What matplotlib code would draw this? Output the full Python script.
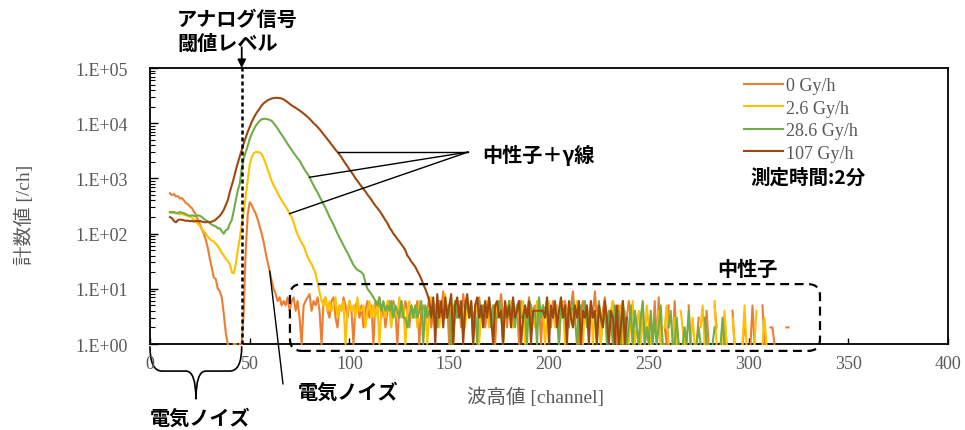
import matplotlib.pyplot as plt
import numpy as np
from matplotlib.patches import FancyBboxPatch, PathPatch
from matplotlib.path import Path
from matplotlib.ticker import LogLocator, NullFormatter

plt.rcParams['font.family'] = ['Liberation Serif', 'Noto Sans CJK JP']
GOTHIC = ['Noto Sans CJK JP', 'DejaVu Sans']
GRAY = '#595959'

# pulse height spectra, counts per channel starting at channel 10 (0 = no counts)
first_channel = 10
series_names = ["0 Gy/h", "2.6 Gy/h", "28.6 Gy/h", "107 Gy/h"]
series_colors = ["#ED7D31", "#FFC000", "#70AD47", "#9E480E"]

counts_0gy = [
    540, 500, 520, 470, 480, 430, 440, 400, 360, 340,
    310, 290, 250, 220, 180, 150, 120, 100, 76, 55,
    35, 24, 16, 15, 10, 9, 7, 3.5, 1.6, 1,
    0, 0, 1, 1, 0, 1, 1, 4, 50, 220,
    370, 330, 270, 230, 180, 135, 100, 70, 45, 30,
    21, 14, 10,
    8, 6, 7, 5, 6, 5, 7, 4, 6, 7, 4, 6, 3, 1, 5, 6, 7, 8, 4, 6,
    5, 7, 4, 1, 6, 7, 4, 3, 6, 7, 3, 2, 5, 4, 7, 5, 3, 6, 4, 1,
    5, 6, 3, 5, 2, 4, 6, 3, 5, 1, 6, 4, 7, 3, 5, 2, 4, 6, 3, 6,
    4, 1, 5, 6, 3, 6, 4, 2, 5, 4, 3, 6, 1, 4, 5, 3, 4, 7, 2, 4,
    5, 3, 6, 4, 9, 3, 5, 1, 5, 4, 6, 3, 5, 2, 8, 4, 5, 3, 6, 1,
    5, 4, 7, 3, 5, 2, 4, 6, 3, 5, 1, 5, 4, 8, 3, 5, 2, 6, 4, 5,
    3, 5, 1, 6, 4, 5, 3, 7, 2, 4, 5, 3, 6, 1, 5, 4, 3, 5, 2, 6,
    4, 5, 1, 4, 3, 6, 4, 2, 5, 9, 3, 5, 1, 4, 6, 3, 5, 2, 4, 3,
    9, 3, 5, 1, 4, 7, 2, 4, 3, 6, 4, 1, 5, 3, 4, 1, 3, 6, 3, 1,
    4, 2, 1, 3, 5, 1, 2, 0, 3, 1, 6, 1, 7, 1, 0, 2, 1, 5, 0, 1,
    6, 1, 0, 0, 2, 1, 0, 5, 1, 0, 0, 1, 3, 0, 0, 1, 4, 1, 0, 0,
    5, 2, 0, 0, 1, 3, 1, 0, 0, 4, 1, 0, 0, 0, 1, 2, 0, 0, 1, 5,
    1, 0, 0, 0, 5, 1, 0, 0, 2, 2, 1, 0, 0, 0, 0, 0, 2, 2,
]

counts_2_6gy = [
    245, 250, 240, 235, 230, 225, 228, 220, 215, 210,
    205, 195, 180, 165, 150, 140, 120, 110, 100, 88,
    80, 75, 72, 65, 60, 52, 45, 40, 35, 32,
    28, 20, 19, 28, 50, 80, 150, 250, 480, 950,
    1800, 2450, 2850, 3000, 3000, 2950, 2750, 2300, 1850, 1450,
    1150, 900, 750, 640, 540, 460, 400, 350, 310, 270,
    230, 200, 160, 120, 95, 80, 68, 60, 48, 38,
    32, 28, 23, 19, 13, 9,
    6, 5, 7, 4, 6, 4, 5, 7, 3, 5, 4, 6, 1, 4, 6, 4, 5, 3, 7, 4,
    4, 5, 2, 4, 6, 3, 5, 3, 6, 1, 4, 5, 3, 6, 4, 2, 5, 4, 3, 7,
    3, 5, 1, 4, 6, 3, 3, 5, 2, 6, 4, 3, 5, 1, 4, 7, 3, 4, 6, 2,
    5, 4, 8, 3, 4, 6, 1, 5, 4, 6, 3, 4, 2, 7, 3, 5, 3, 4, 6, 1,
    4, 5, 3, 6, 2, 4, 3, 5, 3, 6, 4, 1, 5, 4, 3, 6, 2, 4, 5, 3,
    3, 6, 1, 4, 3, 5, 3, 2, 6, 4, 3, 5, 1, 3, 6, 3, 4, 2, 5, 3,
    3, 6, 1, 4, 3, 5, 2, 3, 6, 3, 4, 1, 5, 3, 3, 6, 1, 4, 3, 5,
    1, 3, 5, 3, 1, 4, 6, 2, 3, 3, 5, 1, 4, 2, 1, 3, 6, 1, 2, 4,
    1, 3, 1, 5, 2, 1, 0, 3, 1, 4, 1, 0, 2, 5, 1, 0, 1, 3, 1, 0,
    4, 2, 1, 0, 0, 1, 3, 1, 0, 0, 2, 5, 1, 0, 0, 1, 0, 6, 1, 0,
    0, 1, 4, 1, 0, 0, 3, 1, 0, 0, 0, 1, 5, 1, 0, 0, 0, 1, 4, 0,
    0, 1, 3, 1, 0,
]

counts_28_6gy = [
    245, 240, 245, 240, 235, 245, 240, 235, 225, 215,
    210, 215, 210, 205, 215, 210, 200, 185, 175, 165,
    155, 145, 140, 135, 125, 125, 110, 100, 115, 120,
    150, 175, 260, 400, 600, 800, 1500, 2300, 3000, 3900,
    5200, 6400, 7600, 9000, 10000, 11000, 11800, 12000, 12000, 11800,
    11500, 11000, 10000, 9000, 8000, 7000, 6200, 5500, 4800, 4200,
    3700, 3300, 2900, 2600, 2300, 2100, 1800, 1550, 1350, 1200,
    1050, 880, 750, 640, 560, 470, 400, 340, 290, 240,
    200, 170, 145, 120, 100, 85, 72, 62, 52, 45,
    38, 32, 27, 24, 22, 21, 20, 18, 13, 10,
    9, 8, 7,
    6, 5, 7, 4, 6, 4, 5, 4, 6, 3, 5, 4, 3, 6, 3, 3, 2, 3, 5, 3,
    5, 3, 4, 6, 1, 5, 3, 4, 3, 6, 3, 2, 5, 4, 3, 6, 3, 5, 1, 4,
    6, 3, 5, 3, 2, 4, 6, 3, 5, 3, 4, 1, 6, 3, 5, 3, 4, 6, 2, 5,
    3, 3, 6, 4, 1, 5, 3, 6, 3, 4, 2, 5, 6, 3, 3, 4, 1, 6, 5, 3,
    4, 1, 7, 3, 5, 3, 6, 2, 4, 3, 5, 3, 1, 6, 3, 4, 2, 5, 3, 6,
    3, 1, 4, 5, 3, 6, 2, 3, 5, 3, 4, 1, 6, 3, 2, 5, 1, 4, 3, 1,
    5, 2, 4, 1, 6, 3, 1, 2, 5, 1, 4, 2, 1, 3, 6, 1, 2, 1, 4, 1,
    3, 1, 2, 5, 1, 1, 0, 2, 4, 1, 1, 3, 1, 0, 1, 2, 1, 4, 1, 0,
    0, 1, 2, 1, 0, 3, 1, 1, 0, 1, 2, 0, 0, 1, 3, 1, 0, 0,
]

counts_107gy = [
    200, 190, 170, 160, 175, 180, 178, 175, 170, 172,
    168, 170, 165, 170, 168, 170, 165, 162, 160, 165,
    160, 165, 170, 180, 195, 210, 235, 270, 330, 400,
    560, 750, 1000, 1400, 1900, 2500, 3300, 4300, 5500, 7000,
    8500, 10500, 12500, 14500, 16500, 18500, 21000, 23000, 24500, 26000,
    27000, 28000, 28500, 28800, 28800, 28500, 28000, 27000, 25500, 24000,
    22500, 21000, 20000, 19000, 18000, 17000, 16000, 15000, 14000, 13000,
    12000, 11000, 10000, 9300, 8500, 7800, 7000, 6300, 5700, 5100,
    4600, 4100, 3700, 3300, 3000, 2700, 2400, 2100, 1850, 1650,
    1450, 1300, 1150, 1000, 900, 800, 720, 650, 580, 510,
    460, 410, 360, 320, 290, 260, 230, 200, 175, 155,
    130, 115, 100, 90, 80, 72, 64, 57, 50, 40,
    36, 31, 28, 25, 21, 18, 15, 12, 10, 8,
    6, 3, 7, 1, 8, 3, 6, 2, 7, 3, 5, 8, 1, 5, 7, 3, 6, 1, 5, 8,
    3, 6, 1, 5, 7, 3, 5, 2, 6, 3, 7, 3, 1, 5, 6, 3, 4, 1, 6, 3,
    5, 2, 7, 3, 4, 6, 1, 3, 5, 3, 6, 1, 4, 4, 4, 4, 4, 4, 3, 7,
    1, 5, 3, 6, 2, 4, 7, 3, 5, 1, 6, 3, 2, 5, 3, 6, 1, 4, 3, 5,
    1, 6, 3, 4, 1, 5, 3, 2, 6, 3, 1, 4, 3, 1, 5, 1, 2, 6, 1, 3,
]

all_counts = [counts_0gy, counts_2_6gy, counts_28_6gy, counts_107gy]

x_ticks = [0, 50, 100, 150, 200, 250, 300, 350, 400]
y_ticks = [1, 10, 100, 1000, 10000, 100000]
y_tick_labels = ["1.E+00", "1.E+01", "1.E+02", "1.E+03", "1.E+04", "1.E+05"]
threshold_channel = 46


def value_at(counts, ch):
    return counts[ch - first_channel]


fig = plt.figure(figsize=(9.65, 4.31), dpi=100)
ax = fig.add_axes([0.1554, 0.1995, 0.8270, 0.6404])

for name, color, counts in zip(series_names, series_colors, all_counts):
    y = np.array(counts, dtype=float)
    y[y == 0] = np.nan
    x = first_channel + np.arange(len(y))
    ax.plot(x, y, color=color, lw=1.5, label=name, clip_on=False, zorder=3)

ax.set_yscale('log')
ax.set_xlim(0, 400)
ax.set_ylim(1, 1e5)
ax.set_xticks(x_ticks, [str(v) for v in x_ticks])
ax.set_yticks(y_ticks, y_tick_labels)
ax.yaxis.set_minor_locator(LogLocator(base=10, subs=np.arange(2, 10)))
ax.yaxis.set_minor_formatter(NullFormatter())
ax.tick_params(which='both', direction='in', color='black', labelcolor=GRAY, labelsize=13)
ax.tick_params(axis='y', which='major', length=6, width=1, pad=16)
ax.tick_params(axis='y', which='minor', length=3.5, width=0.8)
ax.tick_params(axis='x', which='major', length=4, width=1, pad=8)
for side in ['left', 'right', 'top', 'bottom']:
    ax.spines[side].set_linewidth(1.3)
    ax.spines[side].set_color('black')

ax.set_xlabel('波高値 [channel]', fontsize=14, color=GRAY)
ax.xaxis.set_label_coords(0.483, -0.155)
ax.set_ylabel('計数値 [/ch]', fontsize=14, color=GRAY)
ax.yaxis.set_label_coords(-0.145, 0.47)

leg = ax.legend(loc='upper left', bbox_to_anchor=(0.744, 0.966), frameon=False,
                fontsize=13, handlelength=2.2, handletextpad=0.15,
                labelspacing=0.3, borderaxespad=0, borderpad=0)
for t in leg.get_texts():
    t.set_color(GRAY)

ax.text(0.752, 0.605, '測定時間:2分', transform=ax.transAxes, fontsize=14,
        fontweight='bold', family=GOTHIC, va='center', ha='left')

# threshold marker: arrow above the frame and dashed line through the plot
ax.plot([threshold_channel, threshold_channel], [1, 1e5], color='black', lw=1.8,
        dashes=(1.6, 1.2), zorder=4)
ax.annotate('', xy=(threshold_channel, 1.0), xycoords=('data', 'axes fraction'),
            xytext=(threshold_channel, 1.075), textcoords=('data', 'axes fraction'),
            arrowprops=dict(arrowstyle='-|>', color='black', lw=1.3,
                            mutation_scale=12, shrinkA=0, shrinkB=0),
            annotation_clip=False)
ax.text(0.034, 1.136, 'アナログ信号\n閾値レベル', transform=ax.transAxes,
        fontsize=14.5, fontweight='bold', family=GOTHIC, va='center', ha='left',
        linespacing=1.12)

# neutron region box
box = FancyBboxPatch((0.1754, -0.025), 0.6642, 0.242,
                     boxstyle='round,pad=0,rounding_size=0.015',
                     mutation_aspect=2.9, transform=ax.transAxes, fill=False,
                     edgecolor='black', lw=1.6, linestyle=(0, (4, 2.5)),
                     clip_on=False, zorder=5)
ax.add_patch(box)
ax.text(0.749, 0.272, '中性子', transform=ax.transAxes, fontsize=14.5,
        fontweight='bold', family=GOTHIC, va='center', ha='center')

# leaders for neutron + gamma peaks
join_ch = 159.4
join_val = value_at(counts_107gy, 94)
for counts, ch in [(counts_107gy, 94), (counts_28_6gy, 80), (counts_2_6gy, 70)]:
    ax.plot([ch, join_ch], [value_at(counts, ch), join_val], color='black', lw=1, zorder=6)
ax.text(0.416, 0.688, '中性子＋γ線', transform=ax.transAxes, fontsize=14.5,
        fontweight='bold', family=GOTHIC, va='center', ha='left')

# electrical noise labels
ax.annotate('', xy=(60, value_at(counts_0gy, 60)), xycoords='data',
            xytext=(0.1667, -0.145), textcoords='axes fraction',
            arrowprops=dict(arrowstyle='-', color='black', lw=1, shrinkA=0, shrinkB=0),
            annotation_clip=False)
ax.text(0.248, -0.17, '電気ノイズ', transform=ax.transAxes, fontsize=14.5,
        fontweight='bold', family=GOTHIC, va='center', ha='center')

brace = Path(
    [(0.0, -0.008), (0.0, -0.098), (0.015, -0.098),
     (0.045, -0.098), (0.0576, -0.098), (0.0576, -0.2),
     (0.0576, -0.098), (0.070, -0.098),
     (0.100, -0.098), (0.115, -0.098), (0.115, -0.008)],
    [Path.MOVETO, Path.CURVE3, Path.CURVE3,
     Path.LINETO, Path.CURVE3, Path.CURVE3,
     Path.CURVE3, Path.CURVE3,
     Path.LINETO, Path.CURVE3, Path.CURVE3])
ax.add_patch(PathPatch(brace, transform=ax.transAxes, fill=False, lw=1.2,
                       edgecolor='black', clip_on=False))
ax.text(0.0626, -0.264, '電気ノイズ', transform=ax.transAxes, fontsize=14.5,
        fontweight='bold', family=GOTHIC, va='center', ha='center')

plt.savefig('out.png')
